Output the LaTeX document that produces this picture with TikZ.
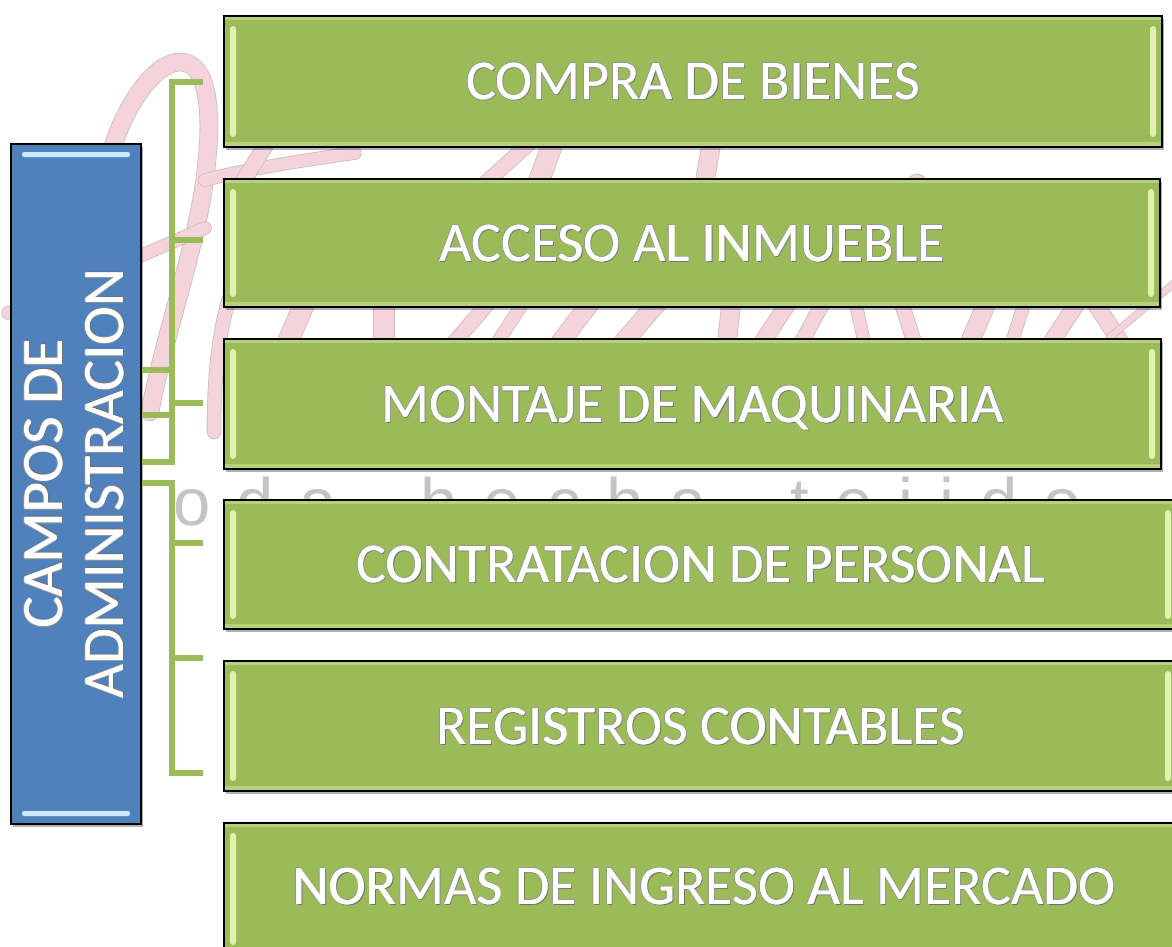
\documentclass[tikz,border=0pt]{standalone}
\usepackage{fontspec}
\newfontfamily\cfont{Carlito}
\newfontfamily\wmfont{Liberation Sans}
\usetikzlibrary{shadows,calc}
\definecolor{boxgreen}{HTML}{9BBB59}
\definecolor{linegreen}{HTML}{9BBB59}
\definecolor{boxblue}{HTML}{4F81BD}
\definecolor{hlgreen}{HTML}{E2F2AE}
\definecolor{topgreen}{HTML}{B7D07C}
\definecolor{hlblue}{HTML}{C8EBFF}
\definecolor{wmpink}{HTML}{F4D3DB}
\definecolor{wmedge}{HTML}{CDBDC1}
\definecolor{wmgray}{HTML}{C4C4C4}
\definecolor{txtedge}{HTML}{969696}
\definecolor{txtshade}{HTML}{707070}
\newcommand\OTxt[1]{\leavevmode
 \rlap{\kern1.3pt\raisebox{-1.3pt}{\textcolor{txtshade}{#1}}}%
 \rlap{\kern-0.9pt\textcolor{txtedge}{#1}}%
 \rlap{\kern0.9pt\textcolor{txtedge}{#1}}%
 \rlap{\raisebox{0.9pt}{\textcolor{txtedge}{#1}}}%
 \rlap{\raisebox{-0.9pt}{\textcolor{txtedge}{#1}}}%
 \rlap{\kern0.4pt\textcolor{white}{#1}}%
 \textcolor{white}{#1}}
\newcommand\gk{\kern26pt}
\tikzset{
 wm/.style={draw=wmedge, line width=0.8pt, double=wmpink, double distance=#1, line cap=round},
 gbox/.style={draw=black, line width=2pt, fill=boxgreen, anchor=north west, inner sep=0pt,
   text height=36pt, text depth=0pt,
   font=\cfont\fontsize{56}{61}\selectfont,
   drop shadow={shadow xshift=2pt, shadow yshift=-3pt, opacity=0.3, fill=black},
   path picture={
    \fill[topgreen] (path picture bounding box.north west) rectangle ([yshift=-4pt]path picture bounding box.north east);
    \fill[topgreen] ([yshift=5pt]path picture bounding box.south west) rectangle (path picture bounding box.south east);
    \fill[hlgreen, rounded corners=3pt] ([xshift=6pt,yshift=-10pt]path picture bounding box.north west) rectangle ([xshift=12pt,yshift=10pt]path picture bounding box.south west);
    \fill[hlgreen, rounded corners=3pt] ([xshift=-12pt,yshift=-10pt]path picture bounding box.north east) rectangle ([xshift=-6pt,yshift=10pt]path picture bounding box.south east);
   }},
 bbox/.style={draw=black, line width=2pt, fill=boxblue, anchor=north west, inner sep=0pt,
   drop shadow={shadow xshift=2pt, shadow yshift=-3pt, opacity=0.3, fill=black},
   path picture={
    \fill[hlblue, rounded corners=2pt] ([xshift=11pt,yshift=-8pt]path picture bounding box.north west) rectangle ([xshift=-11pt,yshift=-13pt]path picture bounding box.north east);
    \fill[hlblue, rounded corners=2pt] ([xshift=11pt,yshift=13pt]path picture bounding box.south west) rectangle ([xshift=-11pt,yshift=8pt]path picture bounding box.south east);
   }},
 conn/.style={draw=linegreen, line width=5.5pt, line cap=butt, line join=miter},
}
\begin{document}
\begin{tikzpicture}[x=1pt,y=-1pt]
\useasboundingbox (0,0) rectangle (1172,947);
\clip (0,0) rectangle (1172,947);
\fill[white] (0,0) rectangle (1172,947);

% watermark script (mostly hidden behind the boxes)
\draw[wm=17pt] (112,150) .. controls (125,105) and (155,62) .. (180,62)
   .. controls (208,62) and (212,110) .. (207,160)
   .. controls (200,240) and (165,330) .. (150,412);
\draw[wm=12pt] (8,313) -- (205,228);
\draw[wm=12pt] (205,180) .. controls (250,168) and (320,158) .. (355,153);
\draw[wm=15pt] (244,180) -- (275,130);
\draw[wm=13pt] (232,290) .. controls (218,330) and (214,380) .. (214,432);
\draw[wm=14pt] (533,140) -- (482,186);
\draw[wm=20pt] (554,140) -- (537,186);
\draw[wm=18pt] (712,140) -- (704,186);
\draw[draw=wmedge, line width=0.8pt, fill=wmpink] (917,183) circle (9);
\foreach \cx/\s/\w in {296/-20/20, 384/0/20, 471/-40/14, 510/-30/12, 575/-35/18, 640/-40/18,
  729/-5/18, 775/-30/16, 812/-25/14, 860/10/12, 908/15/14, 978/-20/18, 1018/-15/12,
  1064/-30/16, 1108/30/16}
  \draw[wm=\w pt] ({\cx-\s/2},300) -- ({\cx+\s/2},346);
\draw[wm=6pt] (1185,274) -- (1110,337);
\node[anchor=base west, inner sep=0pt, text=wmgray, font=\wmfont\fontsize{67}{70}\selectfont]
  (wmtext) at (173,525) {o\gk d\gk a\gk\ \kern13pt\gk h\gk e\gk c\gk h\gk a\gk\ \kern13pt\gk t\gk e\gk j\gk i\gk d\gk o};

% main boxes
\node[bbox, minimum width=130pt, minimum height=680pt] (blue) at (10,143) {};
\node[gbox, minimum width=938pt, minimum height=131pt] (b1) at (223,15) {\OTxt{COMPRA DE BIENES}};
\node[gbox, minimum width=936pt, minimum height=128pt] (b2) at (223,178) {\OTxt{ACCESO AL INMUEBLE}};
\node[gbox, minimum width=937pt, minimum height=130pt] (b3) at (223,338) {\OTxt{MONTAJE DE MAQUINARIA}};
\node[gbox, minimum width=953pt, minimum height=129pt] (b4) at (223,499) {\OTxt{CONTRATACION DE PERSONAL}};
\node[gbox, minimum width=953pt, minimum height=130pt] (b5) at (223,660) {\OTxt{REGISTROS CONTABLES}};
\node[gbox, minimum width=960pt, minimum height=132pt, text depth=6pt] (b6) at (223,822) {\OTxt{NORMAS DE INGRESO AL MERCADO}};

\node[rotate=90, align=center, inner sep=0pt, font=\cfont\fontsize{58.5}{61}\selectfont]
  (bluetext) at ([xshift=-2pt]blue.center) {\OTxt{CAMPOS DE}\\\OTxt{ADMINISTRACION}};

% connectors
\coordinate (T1top) at (172,82);
\coordinate (T1b2) at (172,240);
\coordinate (T1c) at (172,370);
\coordinate (T1b3) at (172,403);
\coordinate (T1d) at (172,415);
\coordinate (T1bot) at (172,462);
\coordinate (E1) at (203,82);
\coordinate (E2) at (203,240);
\coordinate (E3) at (203,403);
\coordinate (T2top) at (172,483);
\coordinate (T2a) at (172,543);
\coordinate (T2b) at (172,658);
\coordinate (T2bot) at (172,773);
\coordinate (F1) at (203,543);
\coordinate (F2) at (203,658);
\coordinate (F3) at (203,773);

\draw[conn] (blue.east |- T1bot) -- (T1bot) -- (T1top) -- (E1);
\draw[conn] (T1b2) -- (E2);
\draw[conn] (T1b3) -- (E3);
\draw[conn] (blue.east |- T1c) -- (T1c);
\draw[conn] (blue.east |- T1d) -- (T1d);
\draw[conn] (blue.east |- T2top) -- (T2top) -- (T2bot) -- (F3);
\draw[conn] (T2a) -- (F1);
\draw[conn] (T2b) -- (F2);
\end{tikzpicture}
\end{document}
